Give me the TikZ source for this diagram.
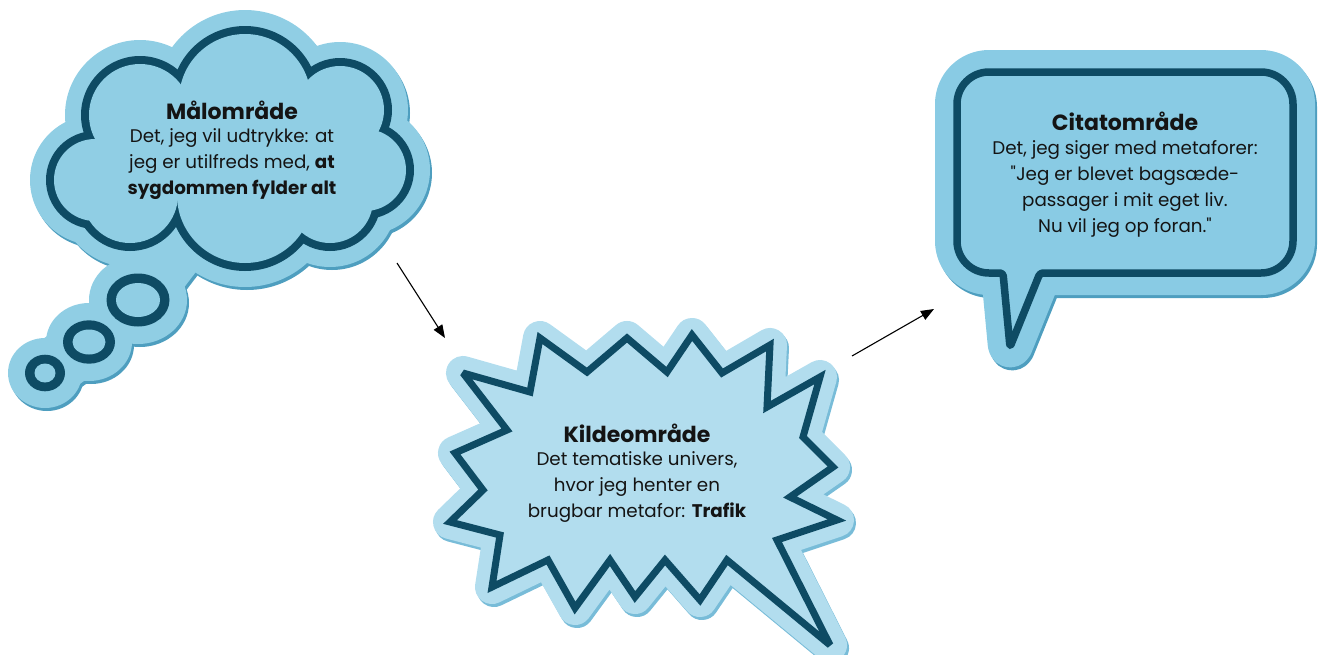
\documentclass[tikz,border=0pt]{standalone}
\usepackage{fontspec}
\setmainfont{Poppins}
\usetikzlibrary{arrows.meta}
\definecolor{inkc}{HTML}{0E4B64}
\definecolor{cloudfelt}{HTML}{90CEE4}
\definecolor{cloudshade}{HTML}{4E9EBF}
\definecolor{starfelt}{HTML}{B2DDEE}
\definecolor{starshade}{HTML}{78BCD8}
\definecolor{speechfelt}{HTML}{89CBE4}
\definecolor{speechshade}{HTML}{4E9EBF}
\definecolor{txt}{HTML}{141414}
\newcommand\qq{\XeTeXglyph\XeTeXcharglyph"22\relax}
\newcommand\cloudlist{95/180/45, 140/115/55, 245/100/70, 340/110/48, 365/170/45, 330/200/47, 245/195/72, 130/195/52}
\newcommand\cloudpoly{(95,180) -- (140,115) -- (245,100) -- (340,110) -- (365,170) -- (330,200) -- (245,195) -- (130,195) -- cycle}
\newcommand\cloudouter[1]{%
  \foreach \x/\y/\r in \cloudlist {\fill[#1] (\x,\y) circle[radius={\r pt+20pt}];}
  \fill[#1] \cloudpoly;
  \draw[#1, line width=58pt, line cap=round, line join=round] (45,373) -- (89,342) -- (138,300) -- (180,245);
  \fill[#1] (138,300) ellipse[x radius=49pt, y radius=44pt];
  \fill[#1] (89,342) ellipse[x radius=43pt, y radius=39pt];
  \fill[#1] (45,373) ellipse[x radius=37pt, y radius=35pt];
}
\newcommand\starpts{(463,373) -- (530,392) -- (540,338) -- (587,372) -- (627,338) -- (667,372) -- (692,335) -- (722,373) -- (770,345) -- (767,407) -- (820,377) -- (803,437) -- (833,467) -- (790,497) -- (837,520) -- (777,540) -- (830,645) -- (727,560) -- (700,600) -- (665,560) -- (635,597) -- (610,560) -- (575,608) -- (548,560) -- (492,587) -- (500,535) -- (450,522) -- (483,490) -- (455,453) -- (507,430) -- cycle}
\newcommand\speechpts{(1150,72) [rounded corners=32pt] -- (957,72) -- (957,273) [rounded corners=3pt] -- (1003,273) -- (1010,347) -- (1040,273) [rounded corners=32pt] -- (1293,273) -- (1293,72) -- cycle}
\begin{document}
\begin{tikzpicture}[x=1pt,y=-1pt,
  head/.style={text=txt, font=\fontsize{22}{26}\selectfont\bfseries, inner sep=0pt},
  body/.style={text=txt, align=center, font=\fontsize{18.3}{25.8}\selectfont, inner sep=0pt},
  conn/.style={line width=1.1pt, -{Triangle[length=13pt,width=10pt]}}]
\useasboundingbox (0,0) rectangle (1318,654);

% ---------- cloud (Maalomraade) ----------
\begin{scope}[shift={(2,3)}]\cloudouter{cloudshade}\end{scope}
\cloudouter{cloudfelt}
\foreach \x/\y/\r in \cloudlist {\fill[inkc] (\x,\y) circle[radius={\r pt+4pt}];}
\foreach \x/\y/\r in \cloudlist {\fill[cloudfelt] (\x,\y) circle[radius={\r pt-4pt}];}
\fill[cloudfelt] \cloudpoly;
% thought bubbles
\fill[inkc] (138,300) ellipse[x radius=31.5pt, y radius=26.5pt];
\fill[cloudfelt] (138,300) ellipse[x radius=22pt, y radius=17pt];
\fill[inkc] (89,342) ellipse[x radius=26pt, y radius=21.7pt];
\fill[cloudfelt] (89,342) ellipse[x radius=16.5pt, y radius=12.5pt];
\fill[inkc] (45,373) ellipse[x radius=20pt, y radius=18.3pt];
\fill[cloudfelt] (45,373) ellipse[x radius=10.5pt, y radius=9.5pt];

% ---------- starburst (Kildeomraade) ----------
\draw[starshade, fill=starshade, line width=34pt, line join=round, shift={(2,3)}] \starpts;
\draw[starfelt, fill=starfelt, line width=34pt, line join=round] \starpts;
\draw[inkc, line width=7pt, line join=miter, miter limit=3] \starpts;

% ---------- speech bubble (Citatomraade) ----------
\draw[speechshade, fill=speechshade, line width=44pt, line join=round, shift={(2,3)}] \speechpts;
\draw[speechfelt, fill=speechfelt, line width=44pt, line join=round] \speechpts;
\draw[inkc, line width=7.5pt, line join=round] \speechpts;

% ---------- texts ----------
\node[head] (malh) at (232,110) {Målområde};
\node[body] (malb) at (232,164) {Det, jeg vil udtrykke: at\\jeg er utilfreds med, \textbf{at}\\\textbf{sygdommen fylder alt}};
\node[head] (kildh) at (637,433) {Kildeområde};
\node[body] (kildb) at (637,487) {Det tematiske univers,\\hvor jeg henter en\\brugbar metafor: \textbf{Trafik}};
\node[head] (cith) at (1125,121) {Citatområde};
\node[body] (citb) at (1125,189) {Det, jeg siger med metaforer:\\\qq Jeg er blevet bagsæde-\\passager i mit eget liv.\\Nu vil jeg op foran.\qq};

% ---------- connectors ----------
\coordinate (a1s) at (397,263);
\coordinate (a1e) at (445,338);
\coordinate (a2s) at (852,356);
\coordinate (a2e) at (934,309);
\draw[conn] (a1s) -- (a1e);
\draw[conn] (a2s) -- (a2e);
\end{tikzpicture}
\end{document}
